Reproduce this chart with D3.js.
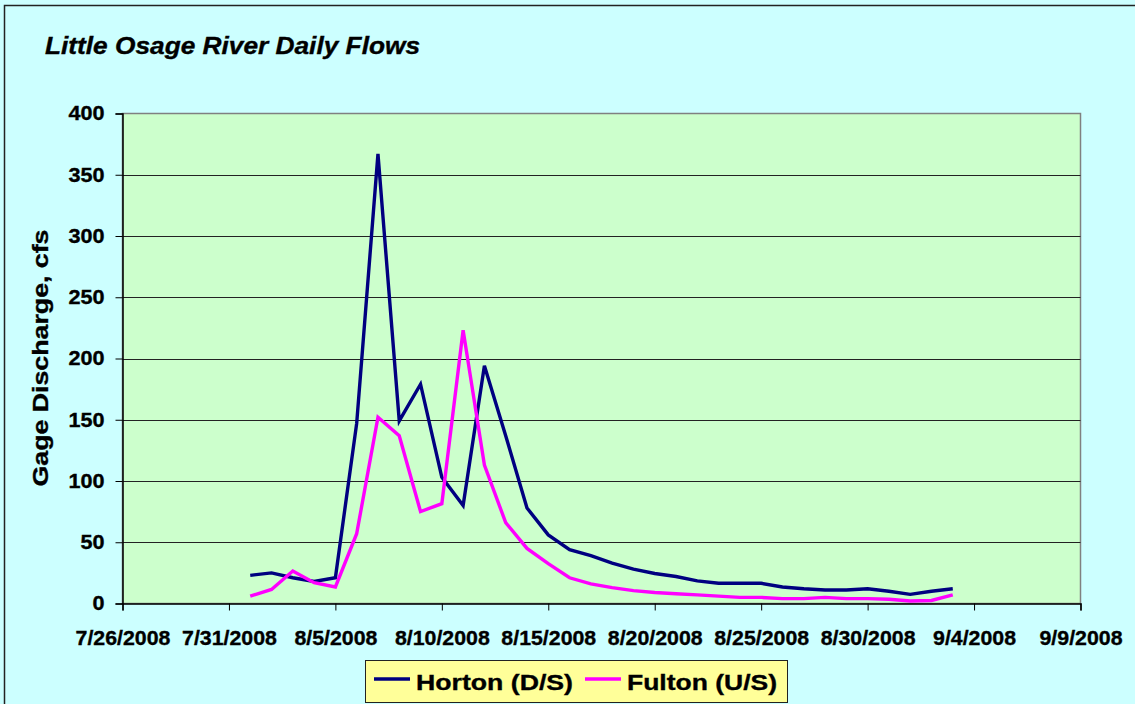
<!DOCTYPE html>
<html>
<head>
<meta charset="utf-8">
<script src="https://cdn.jsdelivr.net/npm/d3@7"></script>
<style>
  body { margin: 0; background: #fff; }
  svg text { font-family: Arial, "Liberation Sans", sans-serif; font-weight: bold; fill: #000;
             stroke: #000; stroke-width: 0.35px; }
</style>
</head>
<body>
<div id="chart"></div>
<script>
// daily gage flows, 8/1/2008 .. 9/3/2008
const startDate = "2008-08-01";
const hortonFlow = [23, 25, 21, 18, 21, 147, 367, 149, 179, 103,
                    80, 194, 137, 78, 56, 44, 39, 33, 28, 24.5,
                    22, 18.5, 16.5, 16.5, 16.5, 13.5, 12, 11, 11, 12, 10,
                    7.5, 10, 12];
const fultonFlow = [6, 11.5, 26.5, 17, 13.5, 57, 152, 137, 75, 81.5,
                    223, 113, 66, 45, 32.5, 21, 16, 13, 10.5, 9,
                    8, 7, 6, 5, 5, 4, 4, 5, 4, 4, 3.5,
                    2, 2.5, 7];
const seriesNames = ["Horton (D/S)", "Fulton (U/S)"];
const seriesColors = ["#000080", "#FF00FF"];
const xTickLabels = ["7/26/2008", "7/31/2008", "8/5/2008", "8/10/2008", "8/15/2008",
                     "8/20/2008", "8/25/2008", "8/30/2008", "9/4/2008", "9/9/2008"];
const yTicks = [0, 50, 100, 150, 200, 250, 300, 350, 400];

const W = 1135, H = 704;
const plot = { left: 122.5, right: 1080.5, top: 113.5, bottom: 603.5 };

const parseMDY = d3.utcParse("%m/%d/%Y");
const xTickDates = xTickLabels.map(parseMDY);
const day0 = new Date(startDate + "T00:00:00Z");
const days = d3.utcDay.range(day0, d3.utcDay.offset(day0, hortonFlow.length));

const x = d3.scaleUtc()
    .domain([xTickDates[0], xTickDates[xTickDates.length - 1]])
    .range([plot.left, plot.right]);
const y = d3.scaleLinear().domain([0, 400]).range([plot.bottom, plot.top]);

const svg = d3.select("#chart").append("svg")
    .attr("width", W).attr("height", H);

// the original text is drawn wider than the font's own width
function stretch(sel, k) {
    sel.each(function () {
        const len = this.getComputedTextLength();
        d3.select(this).attr("textLength", len * k).attr("lengthAdjust", "spacingAndGlyphs");
    });
}
function fitTo(sel, w) {
    sel.attr("textLength", w).attr("lengthAdjust", "spacingAndGlyphs");
}

svg.append("rect").attr("width", W).attr("height", H).attr("fill", "#CCFFFF");
svg.append("rect")
    .attr("x", 4.5).attr("y", 5.5).attr("width", W).attr("height", H)
    .attr("fill", "none").attr("stroke", "#222").attr("stroke-width", 1.5);

svg.append("text")
    .attr("x", 45).attr("y", 54)
    .style("font-size", "23px").style("font-style", "italic")
    .text("Little Osage River Daily Flows")
    .call(fitTo, 375);

// plot area
svg.append("rect")
    .attr("x", plot.left).attr("y", plot.top)
    .attr("width", plot.right - plot.left).attr("height", plot.bottom - plot.top)
    .attr("fill", "#CCFFCC").attr("stroke", "#808080").attr("stroke-width", 1.5);

svg.append("g").selectAll("line")
    .data(yTicks.slice(1, -1))
    .enter().append("line")
    .attr("x1", plot.left).attr("x2", plot.right)
    .attr("y1", d => Math.round(y(d)) + 0.5).attr("y2", d => Math.round(y(d)) + 0.5)
    .attr("stroke", "#222").attr("stroke-width", 1);

// axes
const yAxis = svg.append("g")
    .attr("transform", `translate(${plot.left},0)`)
    .call(d3.axisLeft(y).tickValues(yTicks).tickSize(7).tickPadding(11));
yAxis.selectAll("text").style("font-size", "20px").call(stretch, 1.08);

const xAxis = svg.append("g")
    .attr("transform", `translate(0,${plot.bottom})`)
    .call(d3.axisBottom(x).tickValues(xTickDates).tickSize(7).tickPadding(20)
        .tickFormat((d, i) => xTickLabels[i]));
xAxis.selectAll("text").style("font-size", "20.5px").call(stretch, 1.04);

[yAxis, xAxis].forEach(g => {
    g.select(".domain").attr("stroke", "#000").attr("stroke-width", 1.5);
    g.selectAll(".tick line").attr("stroke", "#000");
});
yAxis.selectAll(".tick text").attr("x", -18);

svg.append("text")
    .attr("transform", `translate(48,358) rotate(-90)`)
    .attr("text-anchor", "middle")
    .style("font-size", "22px")
    .text("Gage Discharge, cfs")
    .call(fitTo, 257);

// series lines
const line = d3.line()
    .x((d, i) => x(days[i]))
    .y(d => y(d));

[hortonFlow, fultonFlow].forEach((vals, s) => {
    svg.append("path")
        .datum(vals)
        .attr("d", line)
        .attr("fill", "none")
        .attr("stroke", seriesColors[s])
        .attr("stroke-width", 3.4)
        .attr("stroke-linejoin", "miter");
});

// legend
const legend = svg.append("g");
legend.append("rect")
    .attr("x", 365.5).attr("y", 660.5).attr("width", 422).attr("height", 42)
    .attr("fill", "#FFFF99").attr("stroke", "#222").attr("stroke-width", 1);

const legendX = [374, 585];
const legendW = [157, 150];
seriesNames.forEach((name, i) => {
    legend.append("line")
        .attr("x1", legendX[i]).attr("x2", legendX[i] + 36)
        .attr("y1", 679).attr("y2", 679)
        .attr("stroke", seriesColors[i]).attr("stroke-width", 3.5);
    legend.append("text")
        .attr("x", legendX[i] + 42).attr("y", 689.5)
        .style("font-size", "22px")
        .text(name)
        .call(fitTo, legendW[i]);
});
</script>
</body>
</html>
